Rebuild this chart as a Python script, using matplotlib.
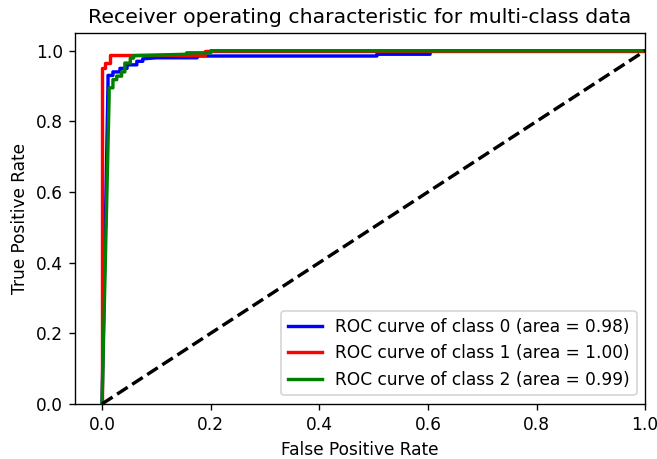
import numpy as np
import matplotlib
matplotlib.use("Agg")
import matplotlib.pyplot as plt

# ROC points (fpr, tpr) for each class
fpr_0 = [0.0, 0.011, 0.011, 0.02, 0.02, 0.033, 0.033, 0.046, 0.046, 0.064, 0.064,
         0.075, 0.075, 0.10, 0.175, 0.175, 0.506, 0.506, 0.604, 0.604, 1.0]
tpr_0 = [0.0, 0.91, 0.93, 0.93, 0.94, 0.94, 0.95, 0.95, 0.96, 0.96, 0.97,
         0.97, 0.977, 0.98, 0.98, 0.985, 0.985, 0.99, 0.99, 1.0, 1.0]

fpr_1 = [0.0, 0.0, 0.005, 0.005, 0.015, 0.015, 0.19, 0.19, 1.0]
tpr_1 = [0.0, 0.952, 0.952, 0.965, 0.965, 0.989, 0.989, 1.0, 1.0]

fpr_2 = [0.0, 0.013, 0.013, 0.02, 0.02, 0.027, 0.027, 0.036, 0.036, 0.042, 0.042,
         0.052, 0.052, 0.058, 0.058, 0.156, 0.156, 0.20, 0.20, 1.0]
tpr_2 = [0.0, 0.87, 0.895, 0.895, 0.918, 0.918, 0.928, 0.928, 0.94, 0.94, 0.965,
         0.965, 0.979, 0.979, 0.986, 0.99, 0.994, 0.994, 1.0, 1.0]

areas = [0.98, 1.00, 0.99]
colors = ['blue', 'red', 'green']

# reference looks like a default figure scaled up ~1.22x
scale = 1.22
fig = plt.figure(figsize=(6.57 / scale, 4.59 / scale), dpi=100 * scale)
ax = fig.add_axes([0.114, 0.12, 0.868, 0.808])

for i, (f, t) in enumerate([(fpr_0, tpr_0), (fpr_1, tpr_1), (fpr_2, tpr_2)]):
    ax.plot(f, t, color=colors[i], lw=2,
            label='ROC curve of class {0} (area = {1:0.2f})'.format(i, areas[i]))

ax.plot([0, 1], [0, 1], 'k--', lw=2)
ax.set_xlim([-0.05, 1.0])
ax.set_ylim([0.0, 1.05])
ax.set_xlabel('False Positive Rate')
ax.set_ylabel('True Positive Rate')
ax.set_title('Receiver operating characteristic for multi-class data')
ax.legend(loc='lower right')

fig.savefig('out.png', dpi=100 * scale)
